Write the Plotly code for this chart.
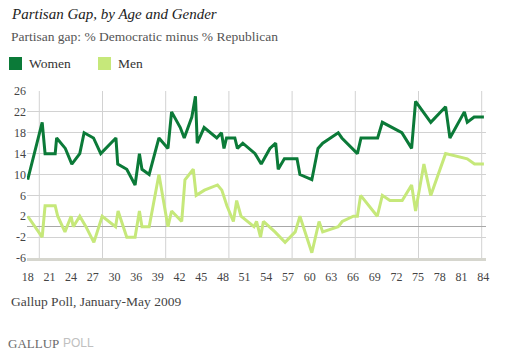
import plotly.graph_objects as go

# ---------------- data ----------------
ages = list(range(18, 31)) + [32, 34] + list(range(36, 85))  # 64 age categories

# vertices of each line: position on the age-category axis (index units) and gap value
women_pos = [0, 2.0, 2.4, 3.8, 4.0, 5.2, 6.1, 7.2, 7.8, 9.1, 10.1, 12.2, 12.45, 13.7, 14.85,
             15.45, 15.8, 16.8, 18.15, 19.4, 19.9, 21.1, 21.65, 22.7, 23.2, 23.45, 24.4, 26.15,
             26.8, 27.15, 27.5, 28.65, 29.0, 29.75, 31.45, 32.3, 33.5, 34.3, 34.65, 35.5, 37.25,
             37.65, 39.3, 40.15, 40.8, 42.95, 43.45, 45.6, 46.1, 48.4, 49.05, 51.75, 53.1, 53.65,
             55.75, 57.8, 58.4, 60.4, 60.8, 61.75, 63.1]
women_gap = [9, 20, 14, 14, 17, 15, 12, 14, 18, 17, 14, 17, 12, 11, 8,
             14, 11, 10, 17, 15, 22, 19, 17, 21, 25, 16, 19, 17,
             18, 15, 17, 17, 15, 16, 14, 12, 15, 16, 11, 13, 13,
             10, 9, 15, 16, 18, 17, 14, 17, 17, 20, 18, 15, 24,
             20, 23, 17, 22, 20, 21, 21]

men_pos = [0, 2.0, 2.4, 3.8, 4.15, 5.15, 6.0, 6.3, 7.2, 8.05, 9.15, 10.3, 12.15, 12.5, 13.7,
           14.85, 15.45, 15.8, 16.8, 18.15, 19.4, 19.9, 21.3, 21.75, 22.9, 23.3, 24.45, 26.25,
           26.85, 27.55, 28.45, 28.9, 29.5, 31.3, 31.65, 32.2, 32.6, 34.2, 35.6, 37.0, 37.65,
           39.3, 40.3, 40.8, 42.95, 43.5, 45.05, 45.6, 46.05, 48.35, 49.05, 50.1, 51.8, 53.1,
           53.65, 54.8, 55.75, 57.8, 60.8, 61.8, 63.1]
men_gap = [2, -2, 4, 4, 2, -1, 2, 0, 2, 0, -3, 2, 0, 3, -2,
           -2, 3, 0, 0, 10, 0, 3, 1, 9, 11, 6, 7, 8,
           7, 4, 1, 5, 2, 0, 1, -2, 1, -1, -3, -1, 2,
           -5, 1, -1, 0, 1, 2, 2, 6, 2, 6, 5, 5, 8,
           3, 12, 6, 14, 13, 12, 12]

y_ticks = [26, 22, 18, 14, 10, 6, 2, -2, -6]
tick_idx = list(range(0, len(ages), 3))
tick_labels = [str(ages[i]) for i in tick_idx]

series_names = ["Women", "Men"]
colors = ["#0b7a38", "#c6e87a"]

# ---------------- layout geometry (pixels) ----------------
W, H = 512, 354
L, R, T, B = 27, 26, 91, 96
PW, PH = W - L - R, H - T - B


def px(x):
    return (x - L) / PW


def py(y):
    return (H - B - y) / PH


SERIF = "Liberation Serif, DejaVu Serif, serif"

fig = go.Figure()
fig.add_trace(go.Scatter(x=men_pos, y=men_gap, mode="lines", name="Men",
                         line=dict(color=colors[1], width=3), showlegend=False))
fig.add_trace(go.Scatter(x=women_pos, y=women_gap, mode="lines", name="Women",
                         line=dict(color=colors[0], width=3), showlegend=False))

shapes = []
# vertical grid lines
for k in range(8):
    gx = 39.3 + 63.2 * k
    shapes.append(dict(type="line", xref="paper", yref="paper", x0=px(gx), x1=px(gx),
                       y0=0, y1=1, line=dict(color="#d2d2d2", width=1), layer="below"))
# legend squares
for sx, c in zip([9, 98], colors):
    shapes.append(dict(type="rect", xref="paper", yref="paper", x0=px(sx), x1=px(sx + 13),
                       y0=py(70), y1=py(57), line=dict(width=0), fillcolor=c))

annotations = [
    dict(text="<i>Partisan Gap, by Age and Gender</i>", x=px(9), y=py(14),
         font=dict(family=SERIF, size=15, color="#222")),
    dict(text="Partisan gap: % Democratic minus % Republican", x=px(9), y=py(37),
         font=dict(family=SERIF, size=13.5, color="#555")),
    dict(text=series_names[0], x=px(27), y=py(63), font=dict(family=SERIF, size=13.5, color="#333")),
    dict(text=series_names[1], x=px(116), y=py(63), font=dict(family=SERIF, size=13.5, color="#333")),
    dict(text="Gallup Poll, January-May 2009", x=px(9), y=py(301),
         font=dict(family=SERIF, size=13.5, color="#444")),
    dict(text="GALLUP", x=px(6), y=py(343), font=dict(family=SERIF, size=13, color="#6a6a6a")),
    dict(text="POLL", x=px(61), y=py(343), font=dict(family="Liberation Sans, Arial, sans-serif",
                                                      size=12, color="#c0c0c0")),
]
for a in annotations:
    a.update(xref="paper", yref="paper", xanchor="left", yanchor="middle", showarrow=False)

fig.update_layout(
    width=W, height=H,
    margin=dict(l=L, r=R, t=T, b=B),
    paper_bgcolor="white", plot_bgcolor="white",
    showlegend=False,
    shapes=shapes,
    annotations=annotations,
    xaxis=dict(range=[-0.1, 63.39], tickmode="array", tickvals=tick_idx, ticktext=tick_labels,
               showgrid=False, zeroline=False, showline=True, linecolor="#d6d6ce", linewidth=3,
               ticks="outside", ticklen=6, tickcolor="rgba(0,0,0,0)",
               tickfont=dict(family=SERIF, size=12, color="#444")),
    yaxis=dict(range=[-6, 26], tickmode="array", tickvals=y_ticks,
               ticktext=[str(v) for v in y_ticks],
               showgrid=True, gridcolor="#d2d2d2", gridwidth=1,
               zeroline=True, zerolinecolor="#a8a8a8", zerolinewidth=1,
               showline=False, ticks="",
               tickfont=dict(family=SERIF, size=12, color="#444")),
)

fig.write_html("out.html")
